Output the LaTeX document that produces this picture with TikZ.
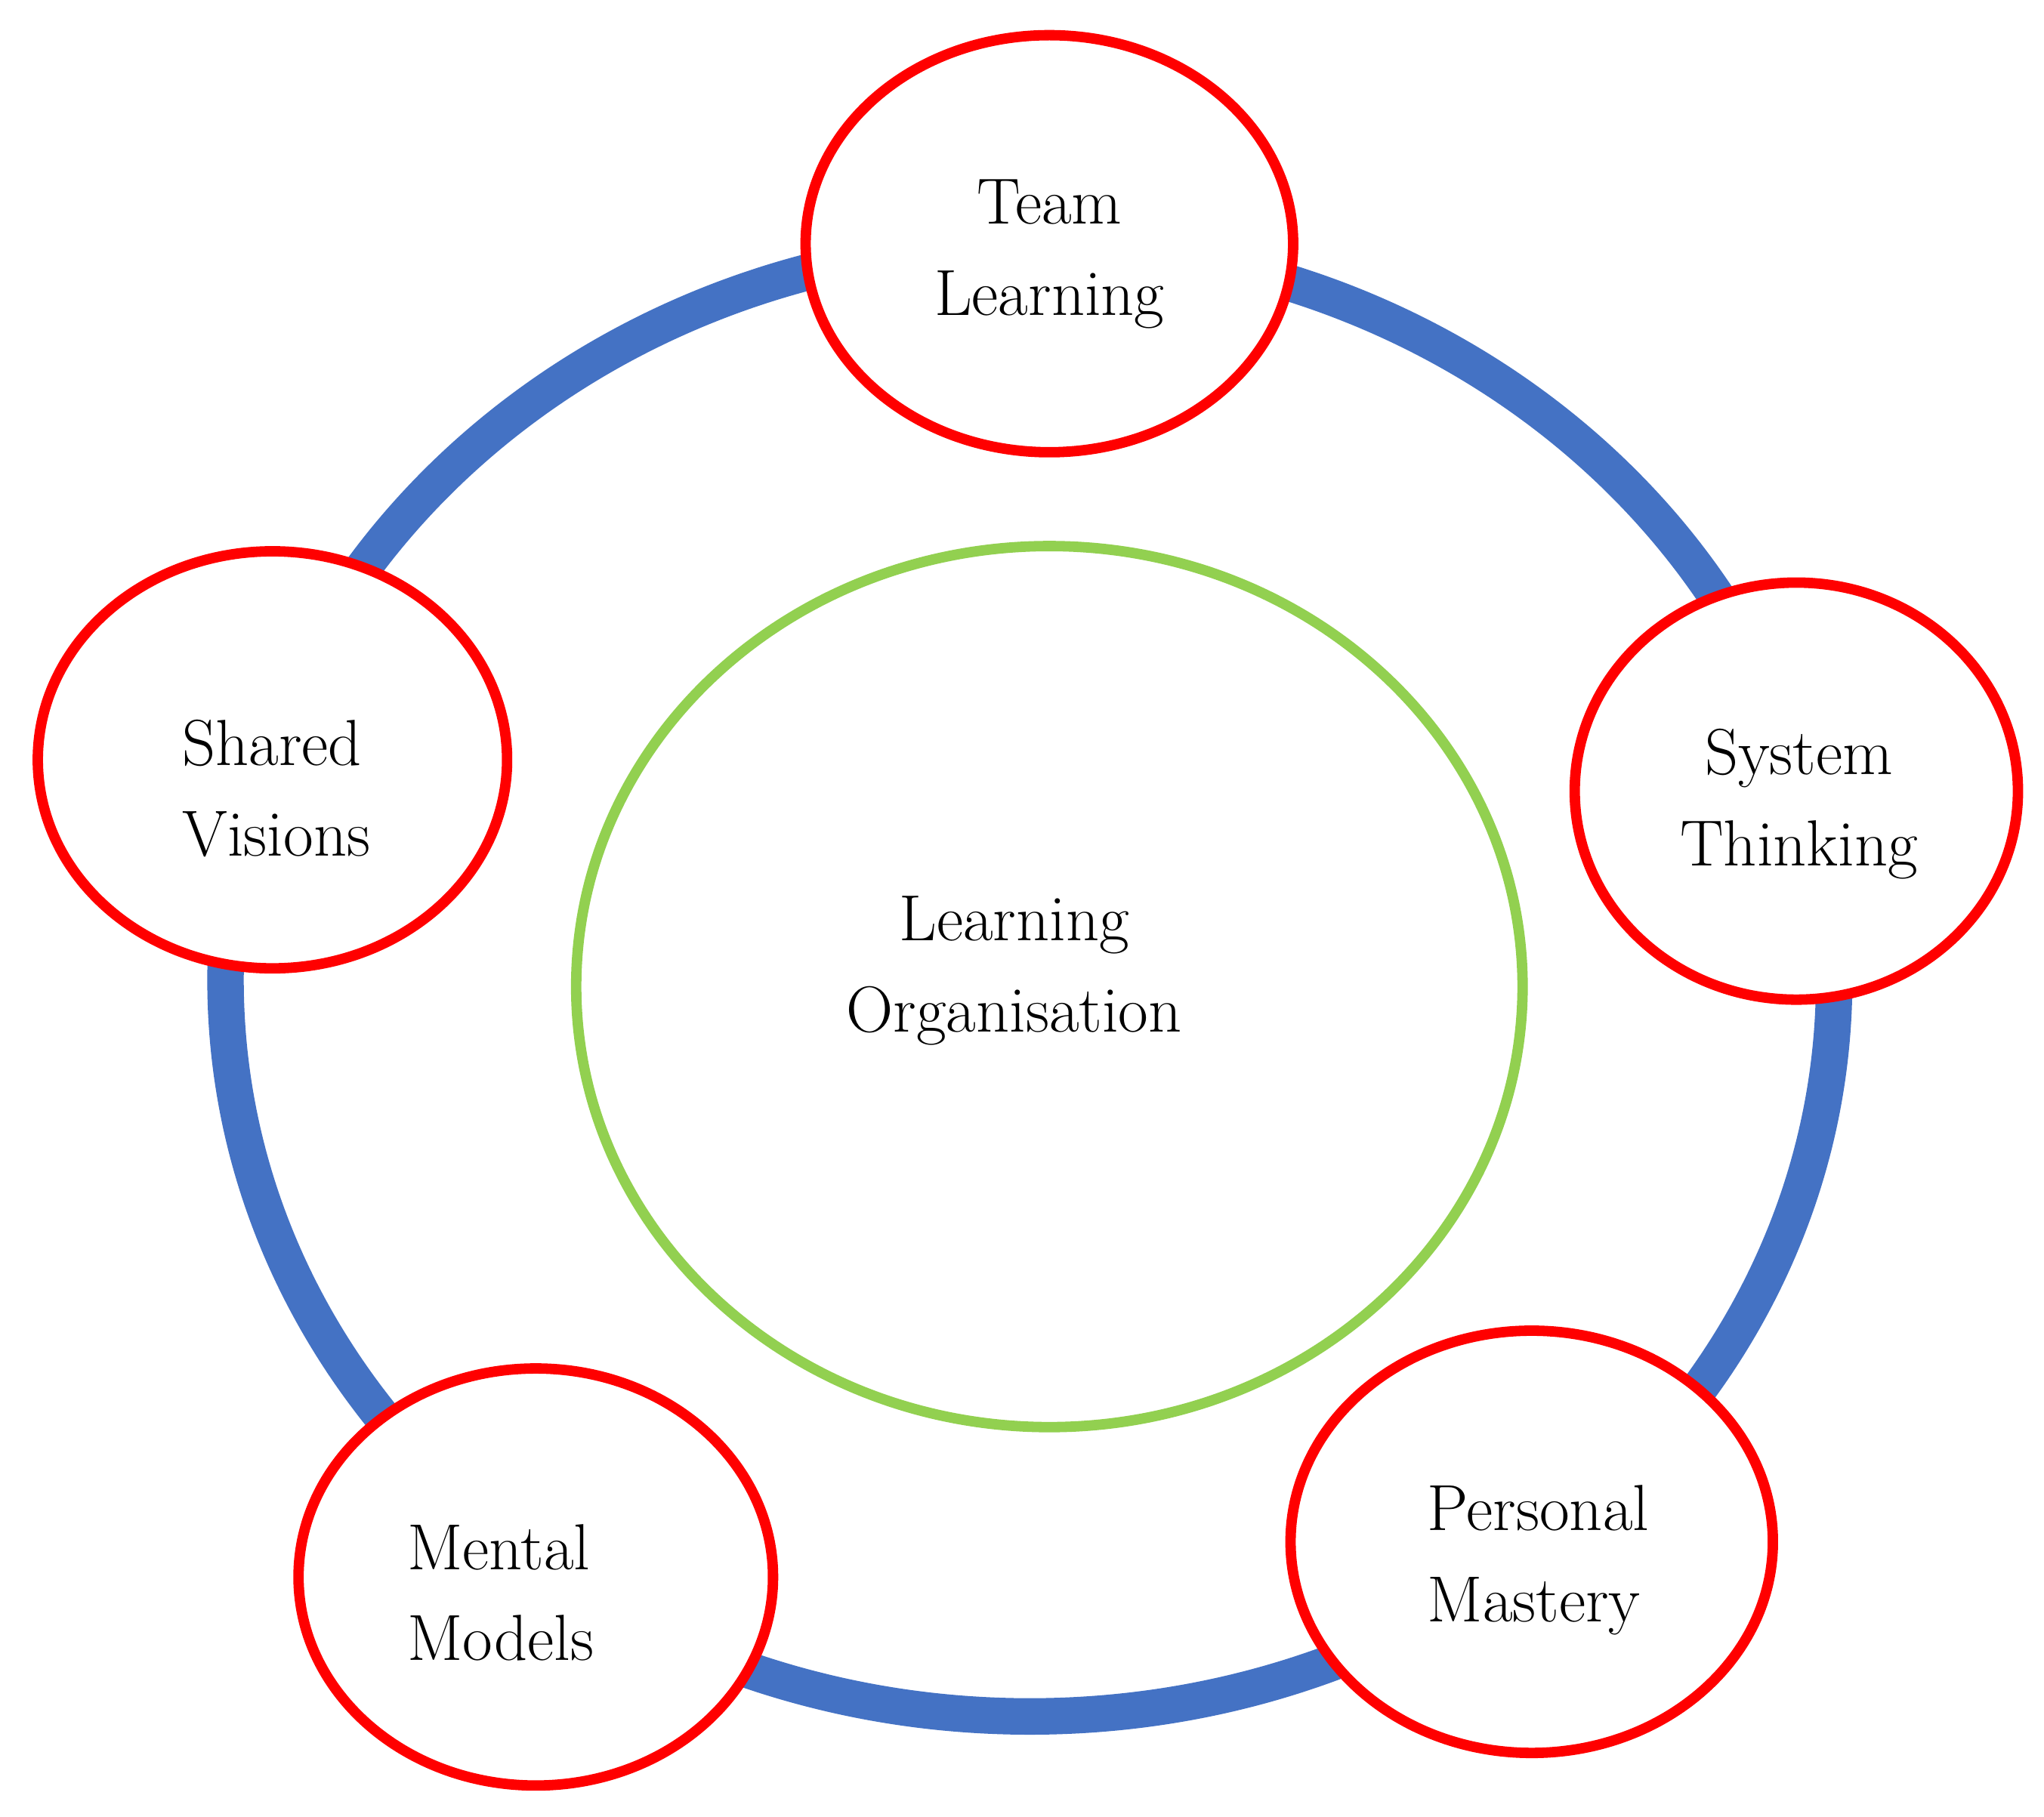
\documentclass[tikz,border=0pt]{standalone}
\begin{document}
\begin{tikzpicture}[x=1pt,y=-1pt,
  disc/.style={draw=red, line width=8pt, fill=white},
  lbl/.style={font=\fontsize{50}{70}\selectfont, align=left}]
\useasboundingbox (0,0) rectangle (1568,1394);
\draw[line width=28pt, draw={rgb,255:red,68;green,114;blue,196}] (790,752) ellipse [x radius=617, y radius=565];
\draw[line width=8pt, draw={rgb,255:red,146;green,208;blue,80}] (805,757) ellipse [x radius=363, y radius=338];
\draw[disc] (805,187) ellipse [x radius=187, y radius=160];
\draw[disc] (209,583) ellipse [x radius=180, y radius=160];
\draw[disc] (1378,607) ellipse [x radius=170, y radius=160];
\draw[disc] (1175,1183) ellipse [x radius=185, y radius=162];
\draw[disc] (411,1210) ellipse [x radius=182, y radius=160];
\node[lbl, align=center] (t) at (805,195) {Team\\Learning};
\node[lbl] (s) at (212,605) {Shared\\Visions};
\node[lbl, align=center] (y) at (1380,617) {System\\Thinking};
\node[lbl] (p) at (1180,1197) {Personal\\Mastery};
\node[lbl] (m) at (384,1222) {Mental\\Models};
\node[lbl, align=center] (c) at (778,745) {Learning\\Organisation};
\end{tikzpicture}
\end{document}
